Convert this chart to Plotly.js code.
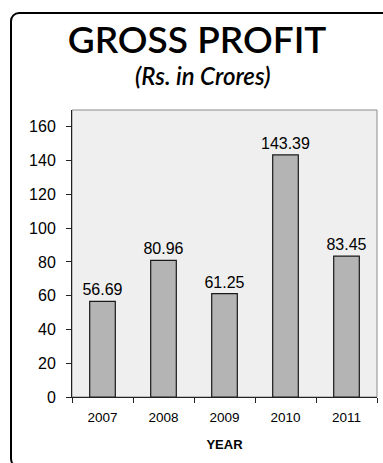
<!DOCTYPE html>
<html>
<head>
<meta charset="utf-8">
<script src="https://cdn.plot.ly/plotly-3.0.1.min.js"></script>
<style>
html,body{margin:0;padding:0;background:#fff;overflow:hidden;width:383px;height:463px;}
#frame{position:absolute;left:10px;top:12px;width:420px;height:456px;border:2.5px solid #000;border-radius:9px;box-sizing:border-box;}
#chart{position:absolute;left:0;top:0;width:383px;height:463px;}
</style>
</head>
<body>
<div id="frame"></div>
<div id="chart"></div>
<script>
const years = ['2007', '2008', '2009', '2010', '2011'];
const grossProfit = [56.69, 80.96, 61.25, 143.39, 83.45];
const valueLabels = ['56.69', '80.96', '61.25', '143.39', '83.45'];
const yTicks = [0, 20, 40, 60, 80, 100, 120, 140, 160];

const trace = {
  type: 'bar',
  x: years,
  y: grossProfit,
  text: valueLabels,
  textposition: 'outside',
  constraintext: 'none',
  cliponaxis: false,
  textfont: {family: 'Liberation Sans, Arial, sans-serif', size: 16, color: '#000'},
  width: 0.42,
  marker: {color: '#b4b4b4', line: {color: '#1a1a1a', width: 1.2}},
  hoverinfo: 'none'
};

const layout = {
  width: 383,
  height: 463,
  margin: {l: 72, r: 6, t: 110, b: 66},
  paper_bgcolor: 'rgba(0,0,0,0)',
  plot_bgcolor: '#efefef',
  showlegend: false,
  uniformtext: {mode: false},
  title: {
    text: 'GROSS PROFIT',
    font: {family: 'Lato, sans-serif', size: 37, weight: 600, color: '#000'},
    xref: 'paper', x: 0.41, xanchor: 'center',
    yref: 'container', y: 1 - 40 / 463, yanchor: 'middle'
  },
  annotations: [{
    text: '<i>(Rs. in Crores)</i>',
    xref: 'paper', yref: 'paper',
    x: 0.428, y: 1.1185, xanchor: 'center', yanchor: 'middle',
    showarrow: false,
    font: {family: 'Lato, sans-serif', size: 24, weight: 600, color: '#000'}
  }],
  shapes: [{
    type: 'rect', xref: 'paper', yref: 'paper',
    x0: 0, x1: 1, y0: 0, y1: 1,
    line: {color: '#8c8c8c', width: 1}, layer: 'below'
  }],
  xaxis: {
    type: 'category',
    tickson: 'boundaries',
    ticks: 'outside', ticklen: 5, tickcolor: '#222', tickwidth: 1,
    showline: true, linecolor: '#222', linewidth: 1,
    showgrid: false, zeroline: false,
    tickfont: {family: 'Liberation Sans, Arial, sans-serif', size: 13.5, color: '#000'},
    ticklabelstandoff: 8,
    title: {text: '<b>YEAR</b>', font: {family: 'Liberation Sans, Arial, sans-serif', size: 13, color: '#000'}, standoff: 15}
  },
  yaxis: {
    range: [0, 170],
    tickvals: yTicks,
    ticks: 'outside', ticklen: 5, tickcolor: '#222', tickwidth: 1,
    showline: true, linecolor: '#222', linewidth: 1,
    showgrid: false, zeroline: false,
    tickfont: {family: 'Liberation Sans, Arial, sans-serif', size: 16, color: '#000'},
    ticklabelstandoff: 7
  }
};

Plotly.newPlot('chart', [trace], layout, {staticPlot: true, displayModeBar: false});
</script>
</body>
</html>
